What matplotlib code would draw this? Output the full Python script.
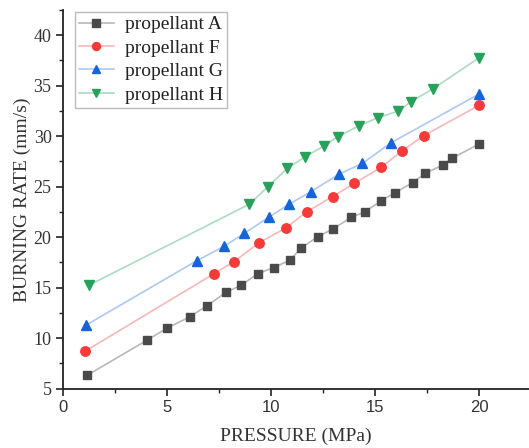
import matplotlib
matplotlib.use("Agg")
import matplotlib.pyplot as plt
from matplotlib.ticker import MultipleLocator

# pressure (MPa) and burning rate (mm/s)
p_a = [1.15, 4.04, 5.0, 6.1, 6.9, 7.83, 8.55, 9.36, 10.11, 10.91, 11.45, 12.24,
       12.99, 13.85, 14.49, 15.29, 15.96, 16.8, 17.41, 18.26, 18.69, 20.0]
r_a = [6.33, 9.82, 11.01, 12.13, 13.22, 14.54, 15.24, 16.39, 16.98, 17.74, 18.96, 20.05,
       20.84, 21.97, 22.5, 23.61, 24.41, 25.4, 26.33, 27.15, 27.81, 29.23]

p_f = [1.04, 7.25, 8.2, 9.4, 10.72, 11.71, 12.95, 14.0, 15.29, 16.28, 17.33, 20.0]
r_f = [8.7, 16.39, 17.57, 19.43, 20.94, 22.52, 24.01, 25.34, 26.92, 28.53, 30.05, 33.06]

p_g = [1.08, 6.42, 7.73, 8.71, 9.88, 10.85, 11.9, 13.28, 14.39, 15.77, 20.0]
r_g = [11.28, 17.67, 19.1, 20.39, 21.97, 23.26, 24.5, 26.26, 27.32, 29.36, 34.18]

p_h = [1.25, 8.94, 9.84, 10.78, 11.63, 12.56, 13.2, 14.2, 15.13, 16.12, 16.72, 17.76, 20.0]
r_h = [15.27, 23.26, 25.0, 26.82, 27.97, 29.06, 29.95, 31.01, 31.83, 32.5, 33.42, 34.67, 37.77]

labels = ["propellant A", "propellant F", "propellant G", "propellant H"]

serif = ["Liberation Serif", "DejaVu Serif"]
sans = ["Liberation Sans", "DejaVu Sans"]

fig = plt.figure(figsize=(5.29, 4.48), dpi=100)
ax = fig.add_axes([0.1197, 0.1324, 0.8803, 0.8453])

series = [
    (p_a, r_a, "s", "#4a4a4a", "#b8b8b8", 6.0),
    (p_f, r_f, "o", "#f53a3a", "#f7b8b8", 6.8),
    (p_g, r_g, "^", "#1764d8", "#adc9f2", 7.0),
    (p_h, r_h, "v", "#27a25a", "#acdcbf", 7.0),
]
for (x, y, m, mc, lc, ms), lab in zip(series, labels):
    ax.plot(x, y, color=lc, lw=1.2, marker=m, ms=ms, mfc=mc, mec=mc, label=lab)

ax.set_xlim(0, 22.4)
ax.set_ylim(5, 42.5)
ax.xaxis.set_major_locator(MultipleLocator(5))
ax.xaxis.set_minor_locator(MultipleLocator(2.5))
ax.yaxis.set_major_locator(MultipleLocator(5))
ax.yaxis.set_minor_locator(MultipleLocator(2.5))
ax.spines["top"].set_visible(False)
ax.spines["right"].set_visible(False)
for s in ("left", "bottom"):
    ax.spines[s].set_linewidth(1.3)
    ax.spines[s].set_color("#222222")
ax.tick_params(which="major", direction="out", length=5, width=1.2, colors="#222222")
ax.tick_params(which="minor", direction="out", length=3, width=1.0, colors="#222222")

for t in ax.get_xticklabels():
    t.set_fontfamily(sans)
    t.set_fontsize(12)
    t.set_color("#333333")
for t in ax.get_yticklabels():
    t.set_fontfamily(serif)
    t.set_fontsize(13)
    t.set_color("#333333")

ax.set_xlabel("PRESSURE (MPa)", family=serif, fontsize=14, color="#333333", labelpad=9)
ax.set_ylabel("BURNING RATE (mm/s)", family=serif, fontsize=14, color="#333333", labelpad=2)

leg = ax.legend(loc="upper left", bbox_to_anchor=(0.025, 0.995), borderaxespad=0.0,
                prop={"family": serif, "size": 14},
                frameon=True, fancybox=False, edgecolor="#aaaaaa", handlelength=1.8,
                handletextpad=0.55, borderpad=0.2, labelspacing=0.3, markerscale=0.85)
leg.get_frame().set_linewidth(1.0)
for t in leg.get_texts():
    t.set_color("#222222")

fig.savefig("out.png", dpi=100)
